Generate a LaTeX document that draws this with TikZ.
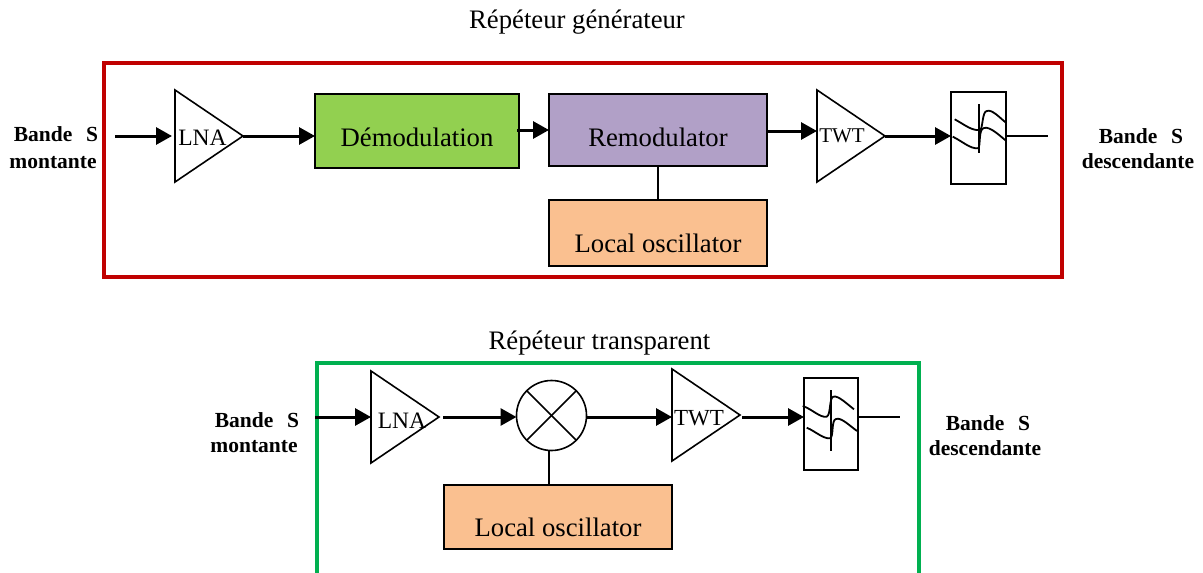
\documentclass[tikz,border=0pt]{standalone}
\usepackage{fontspec}
\setmainfont{Liberation Serif}
\usetikzlibrary{arrows.meta,shapes.geometric}
\definecolor{framered}{HTML}{C00000}
\definecolor{framegreen}{HTML}{00B050}
\definecolor{demodfill}{HTML}{92D050}
\definecolor{remodfill}{HTML}{B1A0C7}
\definecolor{oscfill}{HTML}{FAC090}
\tikzset{
  frame/.style={draw,line width=3.6pt,inner sep=0pt,outer sep=0pt,minimum width=#1},
  block/.style={draw,line width=1.8pt,inner sep=0pt,outer sep=0pt},
  blocktext/.style={font=\fontsize{26.7}{30}\selectfont,inner sep=0pt},
  amp/.style={draw,line width=1.6pt,isosceles triangle,isosceles triangle stretches,
    minimum width=92pt,minimum height=68pt,inner sep=0pt,outer sep=0pt},
  filterbox/.style={draw,line width=1.6pt,inner sep=0pt,outer sep=0pt,minimum width=55pt,minimum height=92pt},
  mixer/.style={draw,circle,line width=1.6pt,minimum size=70pt,inner sep=0pt,outer sep=0pt},
  sig/.style={line width=3pt,-{Triangle[length=16pt,width=17pt]}},
  thin line/.style={line width=1.6pt},
  curve/.style={line width=1.8pt},
  side/.style={font=\fontsize{21.5}{24}\selectfont\bfseries,inner sep=0pt},
  title/.style={font=\fontsize{26.7}{30}\selectfont,inner sep=0pt},
  amptext/.style={font=\fontsize{#1}{26}\selectfont,inner sep=0pt}
}
\newcommand{\bandeS}{Bande\ \ \hspace{3pt}S}
\begin{document}
\begin{tikzpicture}[x=1pt,y=-1pt]
\clip (0,0) rectangle (1203,573);
\fill[white] (0,0) rectangle (1203,573);
% Frames
\node[frame,draw=framered,minimum height=214pt,minimum width=958pt] (redframe) at (583,170) {};
\node[frame,draw=framegreen,minimum height=300pt,minimum width=602pt] (greenframe) at (618,513) {};
% Titles
\node[title] (t1) at (577,22) {Répéteur générateur};
\node[title] (t2) at (599.5,343) {Répéteur transparent};
% Side labels top
\node[side] (s1a) at (56,134) {\bandeS};
\node[side] (s1b) at (53,163) {montante};
\node[side] (s2a) at (1141,136) {\bandeS};
\node[side] (s2b) at (1138,161) {descendante};
% Side labels bottom
\node[side] (s3a) at (257,420) {\bandeS};
\node[side] (s3b) at (254,447) {montante};
\node[side] (s4a) at (988,423) {\bandeS};
\node[side] (s4b) at (985,448) {descendante};
% Top chain
\node[amp,anchor=apex] (lnaA) at (243,136) {};
\node[amptext=23.5] (lnaAt) at (202.5,138) {LNA};
\node[block,fill=demodfill,minimum width=204pt,minimum height=74pt] (demod) at (417,131) {};
\node[blocktext] (demodt) at (417,137) {Démodulation};
\node[block,fill=remodfill,minimum width=218pt,minimum height=72pt] (remod) at (658,130) {};
\node[blocktext] (remodt) at (658,137) {Remodulator};
\node[block,fill=oscfill,minimum width=218pt,minimum height=66pt] (oscA) at (658,233) {};
\node[blocktext] (oscAt) at (658,243) {Local oscillator};
\node[amp,anchor=apex] (twtA) at (885,136) {};
\node[amptext=21] (twtAt) at (842,136) {TWT};
\node[filterbox] (filtA) at (978.5,138) {};
\coordinate (inA) at (115,136);
\coordinate (outA) at (1048,136);
\draw[sig,shorten >=3pt] (inA) -- (lnaA.lower side);
\draw[sig] (lnaA.apex) -- (demod.west |- lnaA.apex);
\draw[sig,shorten <=-2pt] ([yshift=1pt]demod.east) -- ([yshift=1pt]remod.west |- demod.east);
\draw[sig] ([yshift=-1pt]remod.east) -- ([yshift=5pt]twtA.lower side);
\draw[sig] (twtA.apex) -- (filtA.west |- twtA.apex);
\draw[thin line] (filtA.east |- outA) -- (outA);
\draw[thin line] (remod.south) -- (oscA.north);
\draw[thin line] (979,104) -- (979,153);
\draw[curve] (954.7,119.3) .. controls (965,125) and (972,131) .. (980,130)
  .. controls (983,129) and (982,111) .. (987,111) .. controls (992,109) and (1000,118) .. (1006,122.7);
\draw[curve] (952.7,136.7) .. controls (962,141) and (970,149) .. (978,148.3)
  .. controls (981,147) and (978,129) .. (984,128) .. controls (990,126) and (1000,136) .. (1006,140.7);
% Bottom chain
\node[amp,anchor=apex] (lnaB) at (439,417) {};
\node[amptext=23.5] (lnaBt) at (402,421) {LNA};
\node[mixer] (mix) at (551.5,415.5) {};
\draw[thin line] (mix.45) -- (mix.225);
\draw[thin line] (mix.135) -- (mix.315);
\node[block,fill=oscfill,minimum width=228pt,minimum height=64pt] (oscB) at (558,517) {};
\node[blocktext] (oscBt) at (558,527) {Local oscillator};
\node[amp,anchor=apex] (twtB) at (740,415) {};
\node[amptext=23] (twtBt) at (699,418) {TWT};
\node[filterbox,minimum width=54pt] (filtB) at (831,424) {};
\coordinate (inB) at (315,417);
\coordinate (outB) at (900,417);
\draw[sig] (inB) -- (lnaB.lower side);
\draw[sig,shorten <=4pt] (lnaB.apex) -- (mix.west |- lnaB.apex);
\draw[sig] (mix.east |- inB) -- (twtB.lower side |- inB);
\draw[sig] ([xshift=2pt]twtB.apex |- inB) -- (filtB.west |- inB);
\draw[thin line] (filtB.east |- outB) -- (outB);
\draw[thin line] (mix.south -| oscB.north) ++(-9,0) -- ++(0,34);
\draw[thin line] (831,390) -- (831,451);
\draw[curve] (802.7,406) .. controls (812,409) and (820,418) .. (826.7,416.7)
  .. controls (831,415) and (829,398) .. (833.3,396.7) .. controls (838,395) and (847,404) .. (854,409.3);
\draw[curve] (806.7,427.7) .. controls (815,431) and (823,439) .. (830,438.3)
  .. controls (834,437) and (831,420) .. (836,419) .. controls (841,417) and (850,426) .. (857,431);
\end{tikzpicture}
\end{document}
